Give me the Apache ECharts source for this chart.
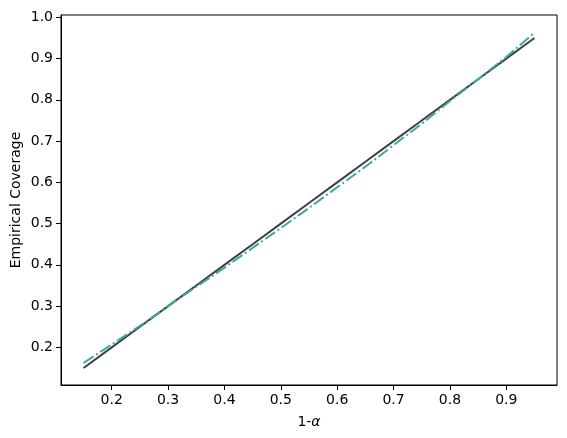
<!DOCTYPE html>
<html>
<head>
<meta charset="utf-8">
<script src="https://cdn.jsdelivr.net/npm/echarts@6/dist/echarts.min.js"></script>
<style>
    html, body { margin: 0; padding: 0; background: #fff; }
    #chart { width: 567px; height: 438px; }
</style>
</head>
<body>
<div id="chart"></div>
<script>
// 1-alpha levels
const levels = [0.15, 0.20, 0.25, 0.30, 0.35, 0.40, 0.45, 0.50, 0.55, 0.60, 0.65, 0.70, 0.75, 0.80, 0.85, 0.90, 0.95];
// empirical coverage
const coverage = [0.162, 0.207, 0.252, 0.300, 0.347, 0.393, 0.441, 0.489, 0.538, 0.588, 0.638, 0.690, 0.742, 0.797, 0.850, 0.904, 0.963];
// ideal line: coverage = 1-alpha
const ideal = levels.slice();

const xTicks = [0.2, 0.3, 0.4, 0.5, 0.6, 0.7, 0.8, 0.9];
const yTicks = [0.2, 0.3, 0.4, 0.5, 0.6, 0.7, 0.8, 0.9, 1.0];

const chart = echarts.init(document.getElementById('chart'));

const font = 'DejaVu Sans';
const axisCommon = {
    type: 'value',
    splitLine: { show: false },
    axisLine: { show: true, onZero: false, lineStyle: { color: '#000', width: 1 } },
    axisTick: { show: true, length: 5, lineStyle: { color: '#000', width: 1 } },
    axisLabel: { color: '#000', fontFamily: font, fontSize: 14, formatter: v => v.toFixed(1) }
};

const option = {
    animation: false,
    grid: {
        left: 61, right: 10, top: 15, bottom: 53,
        outerBoundsMode: 'none',
        containLabel: false,
        show: true, borderColor: '#000', borderWidth: 1, backgroundColor: 'transparent'
    },
    xAxis: Object.assign({}, axisCommon, {
        min: 0.11, max: 0.99,
        axisTick: Object.assign({}, axisCommon.axisTick, { customValues: xTicks }),
        axisLabel: Object.assign({}, axisCommon.axisLabel, { customValues: xTicks, margin: 8 }),
        name: '{n|1-}{a|α}',
        nameLocation: 'middle',
        nameGap: 30,
        nameMoveOverlap: false,
        nameTextStyle: {
            rich: {
                n: { fontFamily: font, fontSize: 14, color: '#000' },
                a: { fontFamily: font, fontSize: 14, color: '#000', fontStyle: 'italic' }
            }
        }
    }),
    yAxis: Object.assign({}, axisCommon, {
        min: 0.1087, max: 1.0057,
        axisTick: Object.assign({}, axisCommon.axisTick, { customValues: yTicks }),
        axisLabel: Object.assign({}, axisCommon.axisLabel, { customValues: yTicks, margin: 8 }),
        name: 'Empirical Coverage',
        nameLocation: 'middle',
        nameGap: 38,
        nameMoveOverlap: false,
        nameRotate: 90,
        nameTextStyle: { fontFamily: font, fontSize: 14, color: '#000' }
    }),
    series: [
        {
            type: 'line',
            data: levels.map((x, i) => [x, ideal[i]]),
            showSymbol: false,
            lineStyle: { color: '#404040', width: 2 },
            z: 2
        },
        {
            type: 'line',
            data: levels.map((x, i) => [x, coverage[i]]),
            showSymbol: false,
            lineStyle: { color: '#3aa8a2', width: 2, type: [12, 3, 2, 3] },
            z: 3
        }
    ]
};

chart.setOption(option);
</script>
</body>
</html>
